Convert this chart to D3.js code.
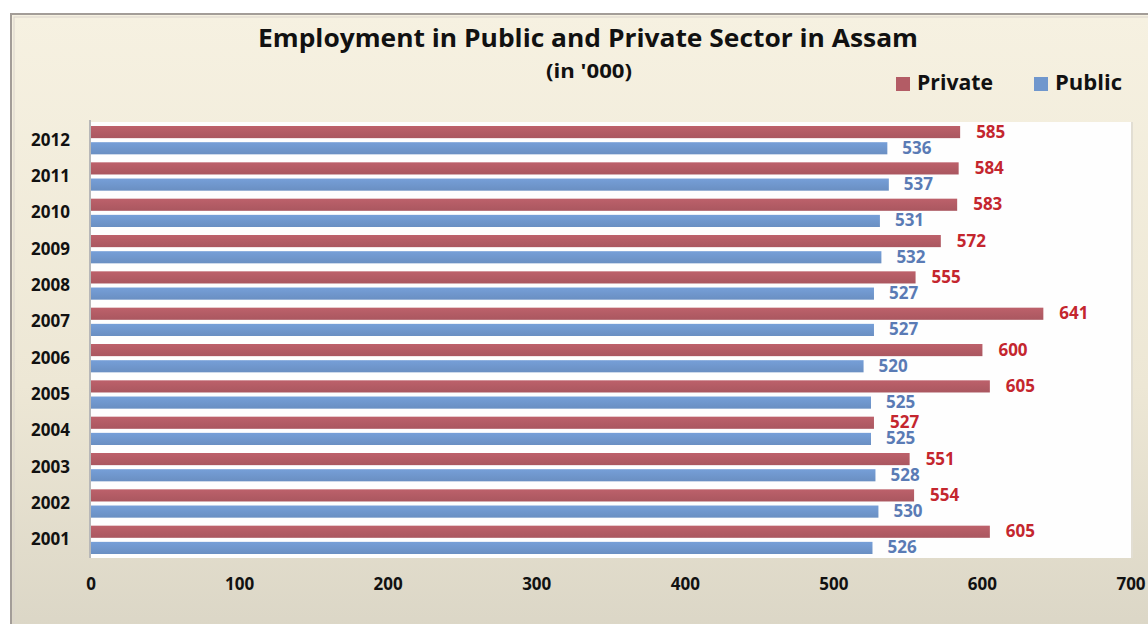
<!DOCTYPE html>
<html>
<head>
<meta charset="utf-8">
<script src="https://cdn.jsdelivr.net/npm/d3@7"></script>
<style>
html,body{margin:0;padding:0;background:#fff;}
svg{display:block;font-family:"Open Sans",Lato,sans-serif;}
</style>
</head>
<body>
<svg id="chart" width="1148" height="624"></svg>
<script>
const years = ["2012","2011","2010","2009","2008","2007","2006","2005","2004","2003","2002","2001"];
const privateVals = [585,584,583,572,555,641,600,605,527,551,554,605];
const publicVals  = [536,537,531,532,527,527,520,525,525,528,530,526];
const seriesNames = ["Private","Public"];
const xTicks = [0,100,200,300,400,500,600,700];
const colors = {Private:"#b35c65", Public:"#7097cd"};
const labelColors = {Private:"#c4262e", Public:"#5a7bb5"};

(function(){
const svg = d3.select("#chart");
const defs = svg.append("defs");

const bg = defs.append("linearGradient").attr("id","bg").attr("x1",0).attr("y1",0).attr("x2",0).attr("y2",1);
bg.append("stop").attr("offset","0%").attr("stop-color","#f6f1e1");
bg.append("stop").attr("offset","60%").attr("stop-color","#ede7d5");
bg.append("stop").attr("offset","100%").attr("stop-color","#dbd6c6");

function barGrad(id, c){
  const g = defs.append("linearGradient").attr("id",id).attr("x1",0).attr("y1",0).attr("x2",0).attr("y2",1);
  g.append("stop").attr("offset","0%").attr("stop-color",d3.color(c).brighter(0.15));
  g.append("stop").attr("offset","50%").attr("stop-color",c);
  g.append("stop").attr("offset","100%").attr("stop-color",d3.color(c).darker(0.15));
}
barGrad("gPrivate", colors.Private);
barGrad("gPublic", colors.Public);

// frame
svg.append("rect").attr("x",11).attr("y",14).attr("width",1150).attr("height",620)
  .attr("fill","url(#bg)").attr("stroke","#a39d98").attr("stroke-width",2);
svg.append("rect").attr("x",14).attr("y",17).attr("width",1150).attr("height",620)
  .attr("fill","none").attr("stroke","#d9d3cb").attr("stroke-width",1);

const mLeft = 91, mRight = 1131, mTop = 122, mBottom = 558;
const x = d3.scaleLinear().domain([0,700]).range([mLeft,mRight]);
const y0 = d3.scaleBand().domain(years).range([mTop,mBottom]).padding(0);
const y1 = d3.scaleBand().domain(seriesNames).range([4, y0.bandwidth()-4]).paddingInner(0.25);

// plot area
svg.append("rect").attr("x",mLeft).attr("y",mTop).attr("width",mRight-mLeft).attr("height",mBottom-mTop)
  .attr("fill","#fefefe");
svg.append("line").attr("x1",mRight+1).attr("x2",mRight+1).attr("y1",mTop).attr("y2",mBottom)
  .attr("stroke","#e2ded3").attr("stroke-width",2);
svg.append("line").attr("x1",mLeft-1).attr("x2",mLeft-1).attr("y1",mTop-2).attr("y2",mBottom)
  .attr("stroke","#b8b8b8").attr("stroke-width",2);

const rows = years.map((yr,i)=>({year:yr, Private:privateVals[i], Public:publicVals[i]}));

const g = svg.append("g");
const grp = g.selectAll("g.row").data(rows).join("g").attr("class","row")
  .attr("transform", d=>`translate(0,${y0(d.year)})`);

grp.selectAll("rect").data(d=>seriesNames.map(s=>({s, v:d[s]}))).join("rect")
  .attr("x", x(0)).attr("y", d=>y1(d.s)).attr("height", y1.bandwidth())
  .attr("width", d=>x(d.v)-x(0)).attr("fill", d=>`url(#g${d.s})`);

grp.selectAll("text").data(d=>seriesNames.map(s=>({s, v:d[s]}))).join("text")
  .attr("x", d=>x(d.v) + (d.s==="Private"?16:15))
  .attr("y", d=>y1(d.s)+y1.bandwidth()/2+1)
  .attr("dominant-baseline","middle")
  .attr("font-size",17).attr("font-weight","bold")
  .attr("fill", d=>labelColors[d.s]).text(d=>d.v);

// y axis labels
svg.append("g").selectAll("text").data(years).join("text")
  .attr("x",70).attr("y", d=>y0(d)+y0.bandwidth()/2+1)
  .attr("text-anchor","end").attr("dominant-baseline","middle")
  .attr("font-size",17).attr("font-weight","bold").attr("fill","#111").text(d=>d);

// x axis labels
svg.append("g").selectAll("text").data(xTicks).join("text")
  .attr("x", d=>x(d)).attr("y",585)
  .attr("text-anchor","middle").attr("dominant-baseline","middle")
  .attr("font-size",17).attr("font-weight","bold").attr("fill","#111").text(d=>d);

// title
svg.append("text").attr("x",588).attr("y",40).attr("text-anchor","middle").attr("dominant-baseline","middle")
  .attr("font-size",25).attr("font-weight","bold").attr("fill","#111")
  .attr("textLength",660).attr("lengthAdjust","spacingAndGlyphs")
  .text("Employment in Public and Private Sector in Assam");
svg.append("text").attr("x",589).attr("y",73).attr("text-anchor","middle").attr("dominant-baseline","middle")
  .attr("font-size",19).attr("font-weight","bold").attr("fill","#111")
  .attr("textLength",86).attr("lengthAdjust","spacingAndGlyphs")
  .text("(in '000)");

// legend
const legend = [{s:"Private", x:896, tx:917, w:76},{s:"Public", x:1034, tx:1055, w:67}];
const lg = svg.append("g");
lg.selectAll("rect").data(legend).join("rect")
  .attr("x",d=>d.x).attr("y",77).attr("width",14).attr("height",14).attr("fill",d=>colors[d.s]);
lg.selectAll("text").data(legend).join("text")
  .attr("x",d=>d.tx).attr("y",84).attr("dominant-baseline","middle")
  .attr("font-size",22).attr("font-weight","bold").attr("fill","#111")
  .attr("textLength",d=>d.w).attr("lengthAdjust","spacingAndGlyphs").text(d=>d.s);
})();
</script>
</body>
</html>
